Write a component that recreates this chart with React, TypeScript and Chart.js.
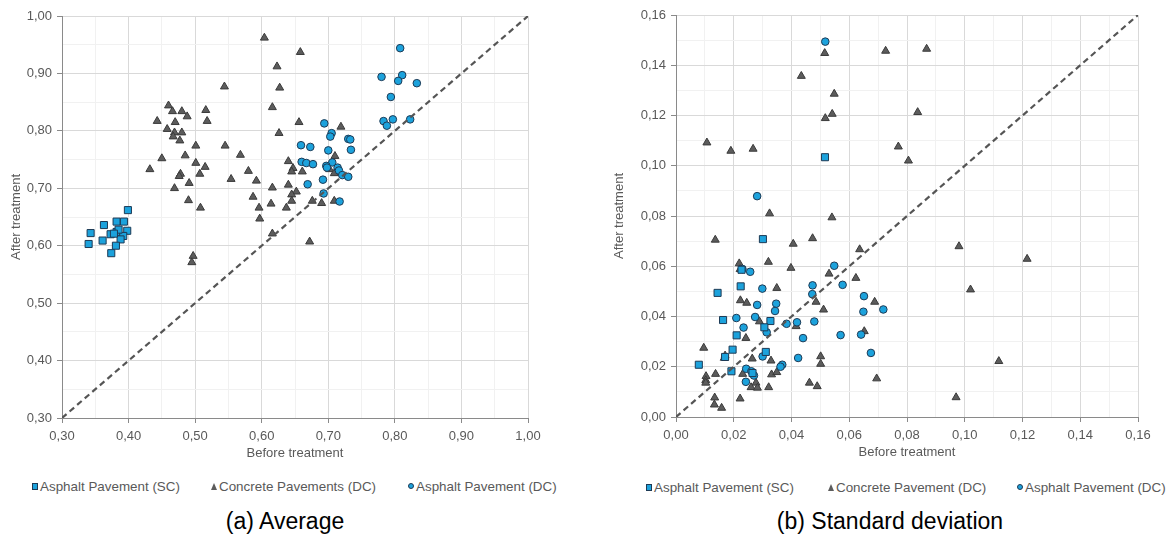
import React, { useEffect, useRef } from "react";
import { Chart, registerables } from "chart.js";
Chart.register(...registerables);

type P = [number, number];

// ---------- (a) Average ----------
const avgAsphaltSC: P[] = [
  [0.399, 0.662], [0.363, 0.636], [0.382, 0.642], [0.393, 0.642], [0.343, 0.622],
  [0.382, 0.624], [0.373, 0.620], [0.398, 0.626], [0.392, 0.617], [0.361, 0.609],
  [0.388, 0.611], [0.340, 0.603], [0.381, 0.600], [0.374, 0.587], [0.385, 0.628],
  [0.378, 0.621],
];

const avgConcreteDC: P[] = [
  [0.604, 0.962], [0.623, 0.912], [0.627, 0.875], [0.544, 0.877], [0.616, 0.841],
  [0.656, 0.815], [0.626, 0.796], [0.658, 0.937], [0.460, 0.844], [0.466, 0.834],
  [0.480, 0.834], [0.488, 0.825], [0.516, 0.836], [0.518, 0.817], [0.443, 0.817],
  [0.470, 0.815], [0.458, 0.803], [0.469, 0.797], [0.480, 0.797], [0.467, 0.790],
  [0.477, 0.783], [0.501, 0.774], [0.545, 0.774], [0.568, 0.758], [0.485, 0.757],
  [0.450, 0.752], [0.501, 0.744], [0.515, 0.737], [0.432, 0.733], [0.580, 0.730],
  [0.478, 0.725], [0.507, 0.725], [0.476, 0.721], [0.554, 0.716], [0.592, 0.713],
  [0.491, 0.709], [0.469, 0.700], [0.616, 0.701], [0.640, 0.747], [0.647, 0.735],
  [0.645, 0.729], [0.661, 0.729], [0.640, 0.706], [0.652, 0.694], [0.490, 0.679],
  [0.587, 0.685], [0.645, 0.689], [0.645, 0.678], [0.614, 0.673], [0.508, 0.666],
  [0.596, 0.666], [0.637, 0.666], [0.597, 0.647], [0.616, 0.621], [0.497, 0.582],
  [0.495, 0.571], [0.719, 0.807], [0.710, 0.756], [0.702, 0.733], [0.709, 0.726],
  [0.676, 0.678], [0.690, 0.674], [0.709, 0.678], [0.672, 0.607],
];

const avgAsphaltDC: P[] = [
  [0.808, 0.944], [0.780, 0.894], [0.811, 0.897], [0.805, 0.887], [0.833, 0.883],
  [0.794, 0.859], [0.783, 0.817], [0.788, 0.809], [0.797, 0.820], [0.823, 0.820],
  [0.694, 0.813], [0.705, 0.796], [0.703, 0.790], [0.730, 0.786], [0.733, 0.785],
  [0.659, 0.775], [0.673, 0.772], [0.700, 0.766], [0.734, 0.767], [0.660, 0.746],
  [0.667, 0.744], [0.677, 0.742], [0.706, 0.745], [0.697, 0.739], [0.698, 0.736],
  [0.714, 0.736], [0.716, 0.731], [0.721, 0.723], [0.730, 0.720], [0.692, 0.715],
  [0.669, 0.707], [0.693, 0.691], [0.717, 0.677],
];

const avgDiagonal: P[] = [[0.30, 0.30], [1.00, 1.00]];

// ---------- (b) Standard deviation ----------
const sdAsphaltSC: P[] = [
  [0.0516, 0.1034], [0.0301, 0.0708], [0.0227, 0.0586], [0.0224, 0.0520], [0.0144, 0.0494],
  [0.0163, 0.0386], [0.0327, 0.0382], [0.0306, 0.0357], [0.0210, 0.0325], [0.0196, 0.0268],
  [0.0311, 0.0259], [0.0170, 0.0239], [0.0079, 0.0208], [0.0192, 0.0182], [0.0265, 0.0175],
];

const sdConcreteDC: P[] = [
  [0.0107, 0.1092], [0.0190, 0.1059], [0.0267, 0.1067], [0.0434, 0.1357], [0.0515, 0.1448],
  [0.0548, 0.1286], [0.0517, 0.1189], [0.0541, 0.1206], [0.0726, 0.1457], [0.0868, 0.1465],
  [0.0837, 0.1213], [0.0770, 0.1076], [0.0805, 0.1020], [0.0324, 0.0810], [0.0540, 0.0794],
  [0.0136, 0.0705], [0.0473, 0.0711], [0.0406, 0.0689], [0.0636, 0.0667], [0.0980, 0.0679],
  [0.1216, 0.0629], [0.1020, 0.0507], [0.1118, 0.0222], [0.0970, 0.0078], [0.0695, 0.0153],
  [0.0219, 0.0611], [0.0320, 0.0617], [0.0398, 0.0593], [0.0222, 0.0588], [0.0349, 0.0513],
  [0.0223, 0.0464], [0.0245, 0.0454], [0.0485, 0.0458], [0.0511, 0.0427], [0.0688, 0.0458],
  [0.0530, 0.0570], [0.0623, 0.0553], [0.0289, 0.0380], [0.0416, 0.0361], [0.0652, 0.0341],
  [0.0242, 0.0314], [0.0096, 0.0275], [0.0170, 0.0244], [0.0167, 0.0235], [0.0264, 0.0232],
  [0.0329, 0.0224], [0.0501, 0.0241], [0.0501, 0.0211], [0.0137, 0.0171], [0.0104, 0.0162],
  [0.0103, 0.0146], [0.0103, 0.0136], [0.0231, 0.0171], [0.0277, 0.0136], [0.0260, 0.0118],
  [0.0282, 0.0116], [0.0321, 0.0118], [0.0331, 0.0169], [0.0349, 0.0178], [0.0462, 0.0136],
  [0.0489, 0.0122], [0.0222, 0.0073], [0.0134, 0.0077], [0.0133, 0.0049], [0.0158, 0.0036],
];

const sdAsphaltDC: P[] = [
  [0.0517, 0.1494], [0.0281, 0.0879], [0.0548, 0.0602], [0.0230, 0.0589], [0.0257, 0.0578],
  [0.0299, 0.0511], [0.0473, 0.0524], [0.0472, 0.0489], [0.0347, 0.0451], [0.0281, 0.0446],
  [0.0343, 0.0422], [0.0209, 0.0394], [0.0274, 0.0398], [0.0234, 0.0356], [0.0314, 0.0337],
  [0.0383, 0.0371], [0.0419, 0.0377], [0.0479, 0.0380], [0.0440, 0.0314], [0.0423, 0.0235],
  [0.0300, 0.0241], [0.0368, 0.0208], [0.0243, 0.0192], [0.0261, 0.0182], [0.0270, 0.0165],
  [0.0242, 0.0140], [0.0577, 0.0526], [0.0651, 0.0481], [0.0718, 0.0428], [0.0649, 0.0419],
  [0.0570, 0.0326], [0.0641, 0.0328], [0.0675, 0.0255], [0.0362, 0.0200],
];

const sdDiagonal: P[] = [[0.0, 0.0], [0.16, 0.16]];

const avgLegend = ["Asphalt Pavement (SC)", "Concrete Pavements (DC)", "Asphalt Pavement (DC)"];
const sdLegend = ["Asphalt Pavement (SC)", "Concrete Pavement (DC)", "Asphalt Pavement (DC)"];
const axisTitleX = "Before treatment";
const axisTitleY = "After treatment";

const BLUE = "#1ca2dc";
const BLUE_BORDER = "#1d3a55";
const GRAY = "#5c5c5c";
const GRAY_BORDER = "#3a3a3a";
const FONT = "'Liberation Sans', Arial, sans-serif";

const toPts = (a: P[]) => a.map(([x, y]) => ({ x, y }));

type PanelProps = {
  sc: P[]; cdc: P[]; adc: P[]; diag: P[];
  min: number; max: number; minor: number; major: number;
  left: number; width: number; height: number;
  yWidth: number; xHeight: number; padRight: number; padTop: number;
  yTitlePad: number; xTitlePad: number;
};

function Panel(p: PanelProps) {
  const ref = useRef<HTMLCanvasElement | null>(null);
  useEffect(() => {
    if (!ref.current) return;
    const isMajor = (v: number) => Math.abs(Math.round(v / p.major) - v / p.major) < 1e-6;
    const fmt = (v: number) => (isMajor(v) ? v.toFixed(2).replace(".", ",") : "");
    const gridColor = (c: any) => (c.tick && isMajor(c.tick.value) ? "#d9d9d9" : "#f1f1f1");
    const tickColor = (c: any) => (c.tick && isMajor(c.tick.value) ? "#8a8a8a" : "rgba(0,0,0,0)");
    const scaleBase = {
      type: "linear" as const,
      min: p.min,
      max: p.max,
      grid: { color: gridColor, tickColor, tickLength: 5, lineWidth: 1 },
      border: { color: "#8a8a8a", width: 1 },
    };
    const chart = new Chart(ref.current, {
      type: "scatter",
      data: {
        datasets: [
          {
            label: "diag",
            data: toPts(p.diag),
            showLine: true,
            borderColor: "#555555",
            borderWidth: 2.2,
            borderDash: [6, 4],
            pointRadius: 0,
            order: -1,
          } as any,
          {
            label: "sc",
            data: toPts(p.sc),
            pointStyle: "rect",
            pointRadius: 5,
            backgroundColor: BLUE,
            borderColor: BLUE_BORDER,
            borderWidth: 1,
            order: 0,
          },
          {
            label: "adc",
            data: toPts(p.adc),
            pointStyle: "circle",
            pointRadius: 3.8,
            backgroundColor: BLUE,
            borderColor: BLUE_BORDER,
            borderWidth: 1,
            order: 1,
          },
          {
            label: "cdc",
            data: toPts(p.cdc),
            pointStyle: "triangle",
            pointRadius: 4.6,
            backgroundColor: GRAY,
            borderColor: GRAY_BORDER,
            borderWidth: 1,
            order: 2,
          },
        ],
      },
      options: {
        animation: false,
        responsive: false,
        devicePixelRatio: 1,
        events: [],
        layout: { padding: { left: 0, right: p.padRight, top: p.padTop, bottom: 0 } },
        plugins: { legend: { display: false }, tooltip: { enabled: false } },
        scales: {
          x: {
            ...scaleBase,
            afterFit: (s: any) => { s.height = p.xHeight; },
            ticks: {
              stepSize: p.minor, autoSkip: false, maxRotation: 0, padding: 6,
              color: "#595959", font: { family: FONT, size: 13 }, callback: (v: any) => fmt(Number(v)),
            },
            title: {
              display: true, text: axisTitleX, color: "#595959",
              font: { family: FONT, size: 13 }, padding: { top: 0, bottom: p.xTitlePad },
            },
          },
          y: {
            ...scaleBase,
            afterFit: (s: any) => { s.width = p.yWidth; },
            ticks: {
              stepSize: p.minor, autoSkip: false, padding: 5,
              color: "#595959", font: { family: FONT, size: 13 }, callback: (v: any) => fmt(Number(v)),
            },
            title: {
              display: true, text: axisTitleY, color: "#595959",
              font: { family: FONT, size: 13 }, padding: { top: p.yTitlePad, bottom: 0 },
            },
          },
        } as any,
      },
    });
    return () => chart.destroy();
  }, []);
  return (
    <canvas
      ref={ref}
      width={p.width}
      height={p.height}
      style={{ position: "absolute", left: p.left, top: 0, width: p.width, height: p.height }}
    />
  );
}

function Marker({ kind }: { kind: "sq" | "tri" | "dot" }) {
  if (kind === "sq")
    return <span style={{ display: "inline-block", width: 6, height: 7, background: BLUE, border: `1px solid ${BLUE_BORDER}`, boxSizing: "border-box" }} />;
  if (kind === "dot")
    return <span style={{ display: "inline-block", width: 6, height: 6, borderRadius: 3, background: BLUE, border: `1px solid ${BLUE_BORDER}`, boxSizing: "border-box" }} />;
  return (
    <span style={{ display: "inline-block", width: 0, height: 0, borderLeft: "3.5px solid transparent", borderRight: "3.5px solid transparent", borderBottom: `7px solid ${GRAY}` }} />
  );
}

function Legend({ items, xs, top }: { items: string[]; xs: number[]; top: number }) {
  const kinds: ("sq" | "tri" | "dot")[] = ["sq", "tri", "dot"];
  return (
    <>
      {items.map((t, i) => (
        <div key={i} style={{ position: "absolute", left: xs[i] - 4, top, height: 16, display: "flex", alignItems: "center", gap: 2, fontFamily: FONT, fontSize: 13.4, color: "#595959", whiteSpace: "nowrap" }}>
          <Marker kind={kinds[i]} />
          <span>{t}</span>
        </div>
      ))}
    </>
  );
}

export default function App() {
  return (
    <div style={{ position: "absolute", left: 0, top: 0, width: 1169, height: 543, background: "#fff", overflow: "hidden" }}>
      <Panel sc={avgAsphaltSC} cdc={avgConcreteDC} adc={avgAsphaltDC} diag={avgDiagonal}
        min={0.3} max={1.0} minor={0.05} major={0.1}
        left={0} width={585} height={470} yWidth={62} xHeight={52} padRight={57} padTop={16}
        yTitlePad={9} xTitlePad={9} />
      <Panel sc={sdAsphaltSC} cdc={sdConcreteDC} adc={sdAsphaltDC} diag={sdDiagonal}
        min={0} max={0.16} minor={0.01} major={0.02}
        left={585} width={584} height={470} yWidth={91} xHeight={53} padRight={31} padTop={15}
        yTitlePad={27} xTitlePad={10} />
      <Legend items={avgLegend} xs={[36, 215, 412]} top={478} />
      <Legend items={sdLegend} xs={[650, 832, 1021]} top={479} />
      <div style={{ position: "absolute", left: 0, width: 570, top: 508, textAlign: "center", fontFamily: FONT, fontSize: 23, color: "#000" }}>(a) Average</div>
      <div style={{ position: "absolute", left: 610, width: 560, top: 508, textAlign: "center", fontFamily: FONT, fontSize: 23, color: "#000" }}>(b) Standard deviation</div>
    </div>
  );
}
